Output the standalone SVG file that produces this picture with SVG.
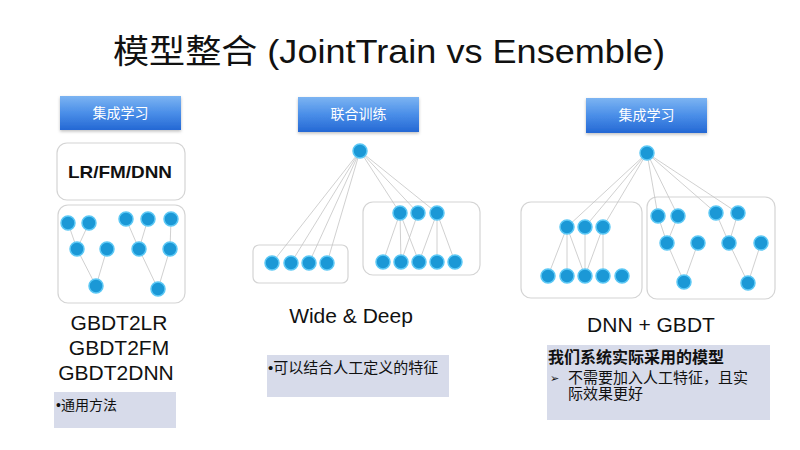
<svg xmlns="http://www.w3.org/2000/svg" width="800" height="450" viewBox="0 0 800 450">
<defs>
<linearGradient id="hdr" x1="0" y1="0" x2="0" y2="1">
<stop offset="0" stop-color="#7cb4f2"/>
<stop offset="0.5" stop-color="#4a8ee8"/>
<stop offset="1" stop-color="#2468d4"/>
</linearGradient>
<filter id="sh" x="-10%" y="-10%" width="120%" height="130%">
<feDropShadow dx="0" dy="1.5" stdDeviation="1.5" flood-color="#000" flood-opacity="0.25"/>
</filter>
</defs>
<style>
text{font-family:"Liberation Sans","Noto Sans CJK SC",sans-serif;fill:#111}
.hdr{fill:url(#hdr);filter:url(#sh)}
.hdrt{fill:#fff;font-size:14px;text-anchor:middle}
.box{fill:#fff;stroke:#d4d4d4;stroke-width:1.2}
.gray{fill:#d7dbea}
.n{fill:#1b98d6;stroke:#5cc8f5;stroke-width:1.5}
.e{stroke:#c4c4c4;stroke-width:0.8;fill:none}
.big{font-size:21px;text-anchor:middle}
.cn{font-size:15px}
</style>
<rect width="800" height="450" fill="#fff"/>
<text x="113" y="63" font-size="33" textLength="552" lengthAdjust="spacingAndGlyphs">模型整合 (JointTrain vs Ensemble)</text>

<g id="hdr-left"><rect class="hdr" x="60" y="96" width="121" height="34"/><text class="hdrt" x="120.5" y="118">集成学习</text></g>
<g id="hdr-mid"><rect class="hdr" x="298" y="97" width="121" height="35"/><text class="hdrt" x="358.5" y="119">联合训练</text></g>
<g id="hdr-right"><rect class="hdr" x="586" y="98" width="121" height="35"/><text class="hdrt" x="646.5" y="120">集成学习</text></g>

<g id="left-model"><rect class="box" x="57" y="143" width="128" height="57" rx="10"/><text x="120" y="178" font-size="17" font-weight="bold" text-anchor="middle" textLength="104" lengthAdjust="spacingAndGlyphs">LR/FM/DNN</text></g>

<g id="containers">
<rect id="box-left-trees" class="box" x="58" y="205" width="127" height="98" rx="10"/>
<rect id="box-mid-wide" class="box" x="253" y="245" width="95" height="38" rx="6"/>
<rect id="box-mid-deep" class="box" x="363" y="202" width="117" height="73" rx="10"/>
<rect id="box-right-dnn" class="box" x="521" y="202" width="121" height="96" rx="10"/>
<rect id="box-right-gbdt" class="box" x="647" y="197" width="128" height="102" rx="10"/>
</g>

<g id="connectors">
<line class="e" x1="68" y1="223" x2="77" y2="249"/>
<line class="e" x1="89" y1="223" x2="77" y2="249"/>
<line class="e" x1="77" y1="249" x2="96" y2="286"/>
<line class="e" x1="107" y1="249" x2="96" y2="286"/>
<line class="e" x1="126" y1="219" x2="139" y2="249"/>
<line class="e" x1="148" y1="219" x2="139" y2="249"/>
<line class="e" x1="171" y1="219" x2="170" y2="249"/>
<line class="e" x1="139" y1="249" x2="158" y2="289"/>
<line class="e" x1="170" y1="249" x2="158" y2="289"/>
<line class="e" x1="360" y1="151" x2="272" y2="263"/>
<line class="e" x1="360" y1="151" x2="291" y2="263"/>
<line class="e" x1="360" y1="151" x2="309" y2="263"/>
<line class="e" x1="360" y1="151" x2="327" y2="263"/>
<line class="e" x1="360" y1="151" x2="400" y2="213"/>
<line class="e" x1="360" y1="151" x2="418" y2="213"/>
<line class="e" x1="360" y1="151" x2="437" y2="213"/>
<line class="e" x1="400" y1="213" x2="383" y2="262"/>
<line class="e" x1="400" y1="213" x2="401" y2="262"/>
<line class="e" x1="400" y1="213" x2="419" y2="262"/>
<line class="e" x1="418" y1="213" x2="401" y2="262"/>
<line class="e" x1="437" y1="213" x2="419" y2="262"/>
<line class="e" x1="437" y1="213" x2="437" y2="262"/>
<line class="e" x1="437" y1="213" x2="455" y2="262"/>
<line class="e" x1="647" y1="153" x2="567" y2="227"/>
<line class="e" x1="647" y1="153" x2="585" y2="227"/>
<line class="e" x1="647" y1="153" x2="603" y2="227"/>
<line class="e" x1="647" y1="153" x2="658" y2="216"/>
<line class="e" x1="647" y1="153" x2="678" y2="216"/>
<line class="e" x1="647" y1="153" x2="716" y2="213"/>
<line class="e" x1="647" y1="153" x2="738" y2="213"/>
<line class="e" x1="567" y1="227" x2="548" y2="276"/>
<line class="e" x1="567" y1="227" x2="567" y2="276"/>
<line class="e" x1="567" y1="227" x2="585" y2="276"/>
<line class="e" x1="585" y1="227" x2="585" y2="276"/>
<line class="e" x1="603" y1="227" x2="585" y2="276"/>
<line class="e" x1="603" y1="227" x2="603" y2="276"/>
<line class="e" x1="658" y1="216" x2="667" y2="243"/>
<line class="e" x1="678" y1="216" x2="667" y2="243"/>
<line class="e" x1="667" y1="243" x2="684" y2="282"/>
<line class="e" x1="698" y1="243" x2="684" y2="282"/>
<line class="e" x1="716" y1="213" x2="729" y2="243"/>
<line class="e" x1="738" y1="213" x2="729" y2="243"/>
<line class="e" x1="729" y1="243" x2="748" y2="283"/>
<line class="e" x1="761" y1="243" x2="748" y2="283"/>
</g>

<g id="left-trees">
<circle class="n" cx="68" cy="223" r="7"/><circle class="n" cx="89" cy="223" r="7"/>
<circle class="n" cx="126" cy="219" r="7"/><circle class="n" cx="148" cy="219" r="7"/><circle class="n" cx="171" cy="219" r="7"/>
<circle class="n" cx="77" cy="249" r="7"/><circle class="n" cx="107" cy="249" r="7"/>
<circle class="n" cx="139" cy="249" r="7"/><circle class="n" cx="170" cy="249" r="7"/>
<circle class="n" cx="96" cy="286" r="7"/><circle class="n" cx="158" cy="289" r="7"/>
</g>
<g id="left-text">
<text class="big" x="119" y="330">GBDT2LR</text>
<text class="big" x="119" y="355">GBDT2FM</text>
<text class="big" x="116" y="380">GBDT2DNN</text>
</g>
<g id="left-note"><rect class="gray" x="54" y="392" width="122" height="36"/><text x="56" y="410" font-size="14">•通用方法</text></g>

<g id="mid-top"><circle class="n" cx="360" cy="151" r="7"/></g>
<g id="mid-wide">
<circle class="n" cx="272" cy="263" r="7"/><circle class="n" cx="291" cy="263" r="7"/><circle class="n" cx="309" cy="263" r="7"/><circle class="n" cx="327" cy="263" r="7"/>
</g>
<g id="mid-deep">
<circle class="n" cx="400" cy="213" r="7"/><circle class="n" cx="418" cy="213" r="7"/><circle class="n" cx="437" cy="213" r="7"/>
<circle class="n" cx="383" cy="262" r="7"/><circle class="n" cx="401" cy="262" r="7"/><circle class="n" cx="419" cy="262" r="7"/><circle class="n" cx="437" cy="262" r="7"/><circle class="n" cx="455" cy="262" r="7"/>
</g>
<g id="mid-text"><text class="big" x="351" y="323">Wide &amp; Deep</text></g>
<g id="mid-note"><rect class="gray" x="267" y="355" width="182" height="42"/><text x="268" y="373" class="cn">•可以结合人工定义的特征</text></g>

<g id="right-top"><circle class="n" cx="647" cy="153" r="7"/></g>
<g id="right-dnn">
<circle class="n" cx="567" cy="227" r="7"/><circle class="n" cx="585" cy="227" r="7"/><circle class="n" cx="603" cy="227" r="7"/>
<circle class="n" cx="548" cy="276" r="7"/><circle class="n" cx="567" cy="276" r="7"/><circle class="n" cx="585" cy="276" r="7"/><circle class="n" cx="603" cy="276" r="7"/><circle class="n" cx="622" cy="276" r="7"/>
</g>
<g id="right-gbdt">
<circle class="n" cx="658" cy="216" r="7"/><circle class="n" cx="678" cy="216" r="7"/><circle class="n" cx="716" cy="213" r="7"/><circle class="n" cx="738" cy="213" r="7"/>
<circle class="n" cx="667" cy="243" r="7"/><circle class="n" cx="698" cy="243" r="7"/><circle class="n" cx="729" cy="243" r="7"/><circle class="n" cx="761" cy="243" r="7"/>
<circle class="n" cx="684" cy="282" r="7"/><circle class="n" cx="748" cy="283" r="7"/>
</g>
<g id="right-text"><text class="big" x="651" y="332">DNN + GBDT</text></g>
<g id="right-note">
<rect class="gray" x="547" y="345" width="223" height="75"/>
<text x="548" y="363" font-size="16" font-weight="bold">我们系统实际采用的模型</text>
<text x="550" y="382" font-size="11">➢</text>
<text x="568" y="383" class="cn">不需要加入人工特征，且实</text>
<text x="568" y="399" class="cn">际效果更好</text>
</g>
</svg>
